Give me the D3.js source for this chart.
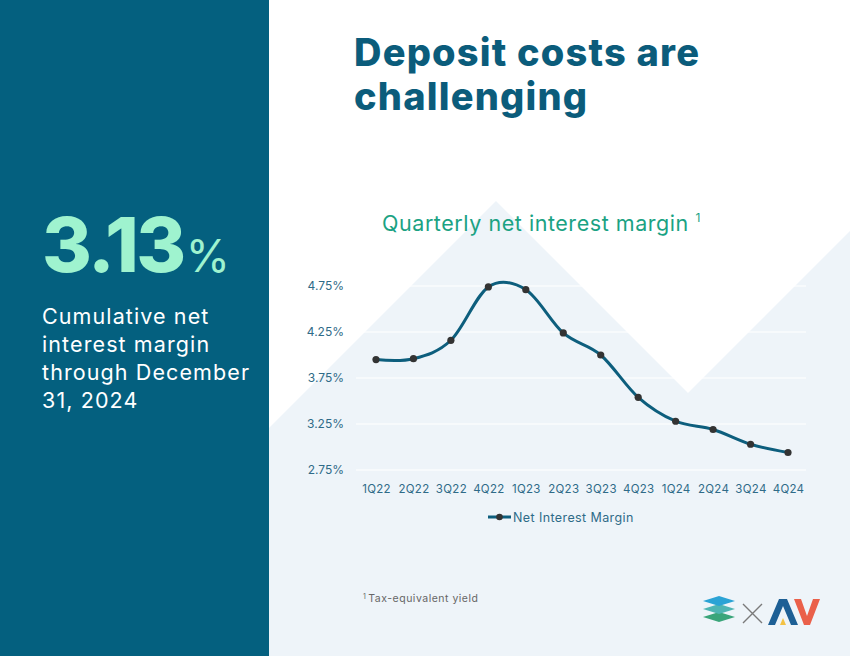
<!DOCTYPE html>
<html lang="en">
<head>
  <meta charset="UTF-8">
  <title>Deposit costs are challenging</title>
  <script src="https://d3js.org/d3.v7.min.js"></script>
  <style>
    body { margin: 0; background: #fff; }
    svg { display: block; font-family: "Inter", "Lato", sans-serif; }
  </style>
</head>
<body>
  <svg width="850" height="656"></svg>

  <script>
    // chart data
    const quarters = ["1Q22", "2Q22", "3Q22", "4Q22", "1Q23", "2Q23", "3Q23", "4Q23", "1Q24", "2Q24", "3Q24", "4Q24"];
    const nim = [3.95, 3.96, 4.16, 4.74, 4.71, 4.24, 4.00, 3.54, 3.28, 3.19, 3.03, 2.94];
    const yTicks = [2.75, 3.25, 3.75, 4.25, 4.75];
    const seriesName = "Net Interest Margin";

    const svg = d3.select("svg");

    // background: white page, dark left panel, light mountain shape
    svg.append("rect").attr("width", 850).attr("height", 656).attr("fill", "#ffffff");
    svg.append("path")
      .attr("d", "M269,428 L496,201 L688,393 L850,231 L850,656 L269,656 Z")
      .attr("fill", "#eef4f9");
    svg.append("rect").attr("width", 269).attr("height", 656).attr("fill", "#04607f");

    // left panel text
    const big = svg.append("text").attr("x", 42).attr("y", 272)
      .attr("fill", "#9ff3cf").style("font-weight", 800);
    big.append("tspan").style("font-size", "76px").style("letter-spacing", "-2.5px").text("3.13");
    big.append("tspan").style("font-size", "45px").style("font-weight", 400).attr("dx", 2).text("%");

    const lines = ["Cumulative net", "interest margin", "through December", "31, 2024"];
    svg.append("g").selectAll("text")
      .data(lines)
      .join("text")
      .attr("x", 42)
      .attr("y", (d, i) => 324 + i * 28)
      .attr("fill", "#ffffff")
      .style("font-size", "21.5px")
      .style("letter-spacing", "1.1px")
      .text(d => d);

    // headline
    svg.append("g").selectAll("text")
      .data(["Deposit costs are", "challenging"])
      .join("text")
      .attr("x", 354)
      .attr("y", (d, i) => 66 + i * 44)
      .attr("fill", "#0b5c7b")
      .style("font-size", "38px")
      .style("font-weight", 800)
      .style("letter-spacing", "1.2px")
      .text(d => d);

    // chart title
    const title = svg.append("text").attr("x", 382).attr("y", 231)
      .attr("fill", "#1aa283").style("font-size", "21.5px").style("letter-spacing", "0.55px");
    title.append("tspan").text("Quarterly net interest margin ");
    title.append("tspan").style("font-size", "12px").attr("dy", -9).text("1");

    // scales
    const x = d3.scalePoint().domain(quarters).range([376, 788]);
    const y = d3.scaleLinear().domain([2.75, 4.75]).range([470, 286]);

    // gridlines
    svg.append("g").selectAll("line")
      .data(yTicks)
      .join("line")
      .attr("x1", 356).attr("x2", 806)
      .attr("y1", d => y(d)).attr("y2", d => y(d))
      .attr("stroke", "#ffffff").attr("stroke-width", 1.2);

    // y axis
    const yAxis = svg.append("g")
      .attr("transform", "translate(344,0)")
      .call(d3.axisLeft(y).tickValues(yTicks).tickSize(0).tickPadding(0).tickFormat(d => d.toFixed(2) + "%"));
    yAxis.select(".domain").remove();
    yAxis.selectAll("text").attr("fill", "#2f6b88").style("font-size", "12px").style("font-family", "Inter, sans-serif");

    // x axis
    const xAxis = svg.append("g")
      .attr("transform", "translate(0,485)")
      .call(d3.axisBottom(x).tickSize(0).tickPadding(0));
    xAxis.select(".domain").remove();
    xAxis.selectAll("text").attr("fill", "#2f6b88").style("font-size", "11.5px")
      .style("letter-spacing", "0.3px").style("font-family", "Inter, sans-serif");

    // smoothed line
    const line = d3.line()
      .x((d, i) => x(quarters[i]))
      .y(d => y(d))
      .curve(d3.curveCardinal.tension(0));

    svg.append("path")
      .datum(nim)
      .attr("d", line)
      .attr("fill", "none")
      .attr("stroke", "#0d5e7d")
      .attr("stroke-width", 3);

    svg.append("g").selectAll("circle")
      .data(nim)
      .join("circle")
      .attr("cx", (d, i) => x(quarters[i]))
      .attr("cy", d => y(d))
      .attr("r", 3.6)
      .attr("fill", "#333333");

    // legend
    const lg = svg.append("g").attr("transform", "translate(488,517)");
    lg.append("line").attr("x1", 0).attr("x2", 23).attr("stroke", "#0d5e7d").attr("stroke-width", 3);
    lg.append("circle").attr("cx", 11.5).attr("r", 3.3).attr("fill", "#333333");
    lg.append("text").attr("x", 25).attr("y", 4.5)
      .attr("fill", "#2f6b88").style("font-size", "12.5px").style("letter-spacing", "0.4px").text(seriesName);

    // footnote
    const fn = svg.append("text").attr("x", 363).attr("y", 602).attr("fill", "#666666")
      .style("font-size", "10.5px").style("letter-spacing", "0.5px");
    fn.append("tspan").style("font-size", "7px").attr("dy", -3).text("1");
    fn.append("tspan").attr("dy", 3).attr("dx", 2).text("Tax-equivalent yield");

    // logo
    const logo = svg.append("g").attr("transform", "translate(703,596)");
    const layer = yy => `M0,${yy + 5} L16,${yy} L32,${yy + 5} L16,${yy + 10} Z`;
    logo.append("path").attr("d", layer(16)).attr("fill", "#3aa57a");
    logo.append("path").attr("d", layer(8)).attr("fill", "#4fb5b3");
    logo.append("path").attr("d", layer(0)).attr("fill", "#2ba3d5");
    logo.append("path").attr("d", "M40,8 L59,27 M59,8 L40,27").attr("stroke", "#7a7a7a").attr("stroke-width", 1.4);
    logo.append("path").attr("d", "M65,29 L76,3 L84,3 L95,29 L88,29 L80,10 L72,29 Z").attr("fill", "#1d5f95");
    logo.append("path").attr("d", "M77,29 L80,22 L83,29 Z").attr("fill", "#f3c244");
    logo.append("path").attr("d", "M91,3 L98,3 L104,20 L110,3 L117,3 L107,29 L101,29 Z").attr("fill", "#ea604a");
  </script>
</body>
</html>
